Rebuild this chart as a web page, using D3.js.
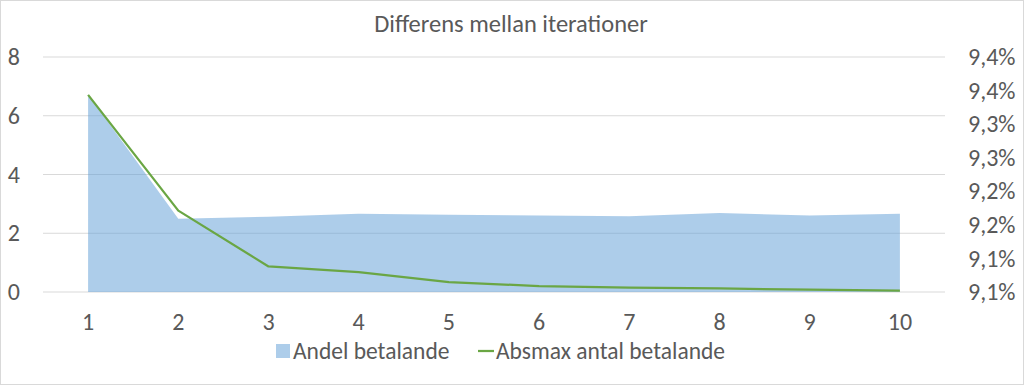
<!DOCTYPE html>
<html>
<head>
<meta charset="utf-8">
<script src="https://cdn.jsdelivr.net/npm/d3@7"></script>
<style>
  body { margin: 0; background: #fff; }
  text { font-family: Calibri, Carlito, Lato, sans-serif; fill: #595959; }
</style>
</head>
<body>
<svg id="chart"></svg>
<script>
// data
var iterations = [1, 2, 3, 4, 5, 6, 7, 8, 9, 10];
var andelBetalande = [9.344, 9.159, 9.162, 9.1665, 9.165, 9.164, 9.163, 9.1676, 9.164, 9.1665]; // percent
var absmaxAntal = [6.71, 2.77, 0.87, 0.68, 0.34, 0.2, 0.15, 0.12, 0.08, 0.05];
var leftTicks = [0, 2, 4, 6, 8];
var rightTicks = [9.05, 9.1, 9.15, 9.2, 9.25, 9.3, 9.35, 9.4];
var rightLabels = ["9,1%", "9,1%", "9,2%", "9,2%", "9,3%", "9,3%", "9,4%", "9,4%"];

var W = 1024, H = 385;
var margin = { top: 57, right: 79, bottom: 93, left: 43 };
var width = W - margin.left - margin.right,
  height = H - margin.top - margin.bottom;
var tickFont = 24;

var svg = d3.select("#chart").attr("width", W).attr("height", H);

// chart border
svg.append("rect")
  .attr("x", 0.5).attr("y", 0.5)
  .attr("width", W - 1).attr("height", H - 1)
  .attr("fill", "#fff").attr("stroke", "#d9d9d9");

var g = svg.append("g")
  .attr("transform", "translate(" + margin.left + "," + margin.top + ")");

// scales
var x = d3.scaleBand().domain(iterations).range([0, width]).padding(0);
var cx = (d) => x(d) + x.bandwidth() / 2;
var yL = d3.scaleLinear().domain([0, 8]).range([height, 0]);
var yR = d3.scaleLinear().domain([9.05, 9.4]).range([height, 0]);

// gridlines
g.append("g")
  .selectAll("line")
  .data(leftTicks)
  .enter()
  .append("line")
  .attr("x1", 0).attr("x2", width)
  .attr("y1", (d) => yL(d)).attr("y2", (d) => yL(d))
  .attr("stroke", "#d9d9d9").attr("stroke-width", 1);

// area (right axis)
var area = d3.area()
  .x((d, i) => cx(iterations[i]))
  .y0(height)
  .y1((d) => yR(d));

g.append("path")
  .datum(andelBetalande)
  .attr("d", area)
  .attr("fill", "#5b9bd5")
  .attr("fill-opacity", 0.5);

// line (left axis)
var line = d3.line()
  .x((d, i) => cx(iterations[i]))
  .y((d) => yL(d));

g.append("path")
  .datum(absmaxAntal)
  .attr("d", line)
  .attr("fill", "none")
  .attr("stroke", "#6aa644")
  .attr("stroke-width", 2.25)
  .attr("stroke-linejoin", "round");

function styleAxis(ax) {
  ax.select(".domain").remove();
  ax.selectAll("text").attr("font-size", tickFont).attr("fill", "#595959")
    .style("font-family", "Calibri, Carlito, Lato, sans-serif");
}

// left axis
var axL = g.append("g")
  .attr("transform", "translate(-23,0)")
  .call(d3.axisLeft(yL).tickValues(leftTicks).tickSize(0).tickPadding(0));
styleAxis(axL);

// right axis
var axR = g.append("g")
  .attr("transform", "translate(" + (width + 23) + ",0)")
  .call(d3.axisRight(yR).tickValues(rightTicks).tickSize(0).tickPadding(0)
    .tickFormat((d, i) => rightLabels[i]));
styleAxis(axR);

// x axis
var axX = g.append("g")
  .attr("transform", "translate(0," + height + ")")
  .call(d3.axisBottom(x).tickSize(0).tickPadding(21));
styleAxis(axX);

// title
svg.append("text")
  .attr("x", 511)
  .attr("y", 23)
  .attr("dy", "0.35em")
  .attr("text-anchor", "middle")
  .attr("font-size", 24.5)
  .text("Differens mellan iterationer");

// legend
var lg = svg.append("g").attr("transform", "translate(0,351)");
lg.append("rect")
  .attr("x", 276).attr("y", -7).attr("width", 14).attr("height", 14)
  .attr("fill", "#5b9bd5").attr("fill-opacity", 0.5);
lg.append("text")
  .attr("x", 293).attr("dy", "0.35em").attr("font-size", 23.5)
  .text("Andel betalande");
lg.append("line")
  .attr("x1", 478).attr("x2", 494).attr("y1", 0).attr("y2", 0)
  .attr("stroke", "#6aa644").attr("stroke-width", 2.25);
lg.append("text")
  .attr("x", 496).attr("dy", "0.35em").attr("font-size", 23.5)
  .text("Absmax antal betalande");
</script>
</body>
</html>
